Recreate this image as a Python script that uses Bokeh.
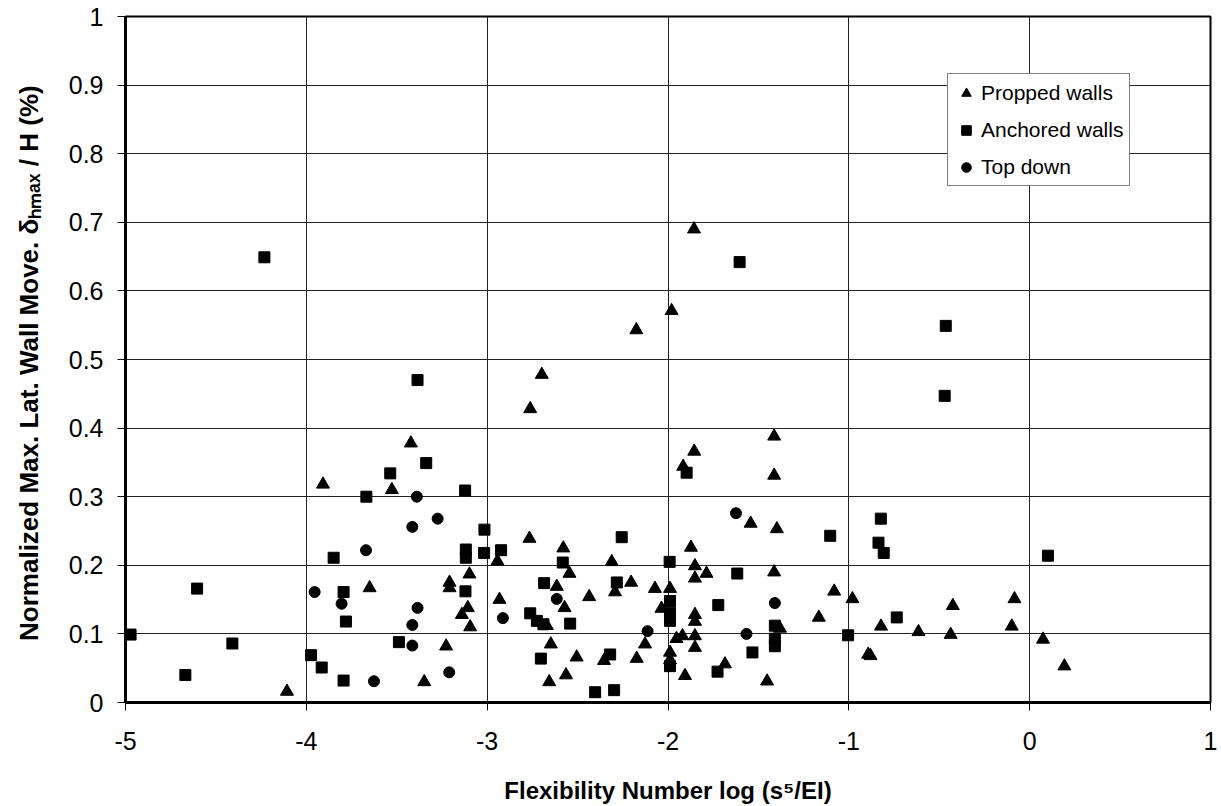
from bokeh.plotting import figure
from bokeh.models import ColumnDataSource, FixedTicker, Legend, LegendItem
from bokeh.embed import file_html
from bokeh.resources import INLINE

# ---- data ----
propped_x = [-2.698, -2.762, -3.422, -3.908, -3.527, -2.766, -2.943, -3.098, -3.208, -3.208,
             -3.650, -2.932, -3.107, -3.140, -3.094, -3.227, -3.348, -4.107, -1.413, -1.855,
             -1.916, -1.413, -1.543, -1.398, -2.579, -1.873, -2.311, -1.851, -2.545, -1.851,
             -1.787, -1.413, -2.204, -2.615, -2.293, -2.072, -1.989, -1.081, -2.436, -2.572,
             -2.036, -1.851, -1.851, -1.166, -1.381, -1.953, -1.920, -1.851, -1.851, -2.648,
             -2.127, -1.989, -1.989, -2.354, -2.505, -2.173, -1.685, -1.906, -2.564, -2.657,
             -1.452, -0.980, -0.084, -0.425, -0.822, -0.099, -0.615, -0.437, 0.074, -0.893,
             -0.880, 0.192, -1.856, -1.980, -2.175, -2.670]
propped_y = [0.478, 0.428, 0.378, 0.318, 0.310, 0.239, 0.206, 0.187, 0.175, 0.167,
             0.167, 0.150, 0.138, 0.128, 0.110, 0.082, 0.030, 0.016, 0.388, 0.366,
             0.344, 0.331, 0.261, 0.253, 0.225, 0.226, 0.205, 0.199, 0.188, 0.181,
             0.188, 0.190, 0.175, 0.169, 0.161, 0.166, 0.166, 0.162, 0.154, 0.138,
             0.137, 0.128, 0.118, 0.124, 0.108, 0.093, 0.097, 0.097, 0.080, 0.085,
             0.085, 0.073, 0.062, 0.061, 0.066, 0.064, 0.056, 0.039, 0.040, 0.030,
             0.031, 0.151, 0.151, 0.141, 0.111, 0.111, 0.103, 0.099, 0.092, 0.070,
             0.068, 0.053, 0.690, 0.571, 0.543, 0.112]

anchored_x = [-4.232, -3.385, -3.337, -3.536, -3.122, -3.668, -3.015, -3.849, -3.118, -3.118,
              -3.017, -2.923, -4.604, -3.794, -3.120, -2.762, -3.781, -2.725, -2.689, -4.972,
              -4.409, -3.488, -3.974, -2.703, -3.915, -4.669, -3.794, -1.897, -1.103, -2.256,
              -1.991, -2.582, -1.617, -2.685, -2.283, -1.989, -1.722, -1.989, -1.989, -2.541,
              -1.409, -1.004, -1.409, -1.409, -1.533, -2.320, -1.989, -1.726, -2.403, -2.298,
              -0.823, -0.836, -0.807, 0.101, -0.735, -1.604, -0.464, -0.470]
anchored_y = [0.649, 0.470, 0.349, 0.334, 0.309, 0.300, 0.252, 0.211, 0.223, 0.211,
              0.218, 0.222, 0.166, 0.161, 0.162, 0.130, 0.118, 0.119, 0.114, 0.099,
              0.086, 0.088, 0.069, 0.064, 0.051, 0.040, 0.032, 0.335, 0.243, 0.241,
              0.205, 0.204, 0.188, 0.174, 0.175, 0.148, 0.142, 0.131, 0.119, 0.115,
              0.112, 0.098, 0.093, 0.082, 0.073, 0.070, 0.053, 0.045, 0.015, 0.018,
              0.268, 0.233, 0.218, 0.214, 0.124, 0.642, 0.549, 0.447]

topdown_x = [-3.389, -3.274, -3.414, -3.670, -3.954, -3.805, -3.385, -2.913, -3.414, -3.414,
             -3.210, -3.626, -1.624, -2.615, -1.409, -2.113, -1.566]
topdown_y = [0.300, 0.268, 0.256, 0.222, 0.161, 0.144, 0.138, 0.123, 0.113, 0.083,
             0.044, 0.031, 0.276, 0.151, 0.145, 0.104, 0.100]

x_ticks = [-5, -4, -3, -2, -1, 0, 1]
x_tick_labels = ["-5", "-4", "-3", "-2", "-1", "0", "1"]
y_ticks = [0.0, 0.1, 0.2, 0.3, 0.4, 0.5, 0.6, 0.7, 0.8, 0.9, 1.0]
y_tick_labels = ["0", "0.1", "0.2", "0.3", "0.4", "0.5", "0.6", "0.7", "0.8", "0.9", "1"]

series_names = ["Propped walls", "Anchored walls", "Top down"]

FONT = "Liberation Sans"

p = figure(width=1221, height=806, x_range=(-5, 1), y_range=(0, 1),
           output_backend="svg", toolbar_location=None,
           min_border_left=125, min_border_right=11, min_border_top=16, min_border_bottom=103,
           background_fill_color="white", border_fill_color="white")

p.outline_line_color = "black"
p.outline_line_width = 2

# grid
p.xgrid.ticker = FixedTicker(ticks=x_ticks)
p.ygrid.ticker = FixedTicker(ticks=y_ticks)
for g in (p.xgrid, p.ygrid):
    g.grid_line_color = "#222222"
    g.grid_line_width = 1

# axes
p.xaxis.ticker = FixedTicker(ticks=x_ticks)
p.yaxis.ticker = FixedTicker(ticks=y_ticks)
p.xaxis.major_label_overrides = {t: l for t, l in zip(x_ticks, x_tick_labels)}
p.yaxis.major_label_overrides = {t: l for t, l in zip(y_ticks, y_tick_labels)}
for ax in (p.xaxis, p.yaxis):
    ax.axis_line_color = "black"
    ax.axis_line_width = 3
    ax.major_tick_line_color = "black"
    ax.major_tick_line_width = 1
    ax.major_tick_out = 8
    ax.major_tick_in = 0
    ax.minor_tick_line_color = None
    ax.major_label_text_font = FONT
    ax.major_label_text_font_size = "25px"
    ax.major_label_text_color = "black"
    ax.axis_label_text_font = FONT
    ax.axis_label_text_font_style = "bold"
    ax.axis_label_text_color = "black"

p.xaxis.axis_label_text_font_size = "24px"
p.yaxis.axis_label_text_font_size = "26px"
p.xaxis.major_label_standoff = 21
p.yaxis.major_label_standoff = 14
p.xaxis.axis_label = "Flexibility Number log (s\u2075/EI)"
p.yaxis.axis_label = "Normalized Max. Lat. Wall Move.  \u03b4\u2095\u2098\u2090\u2093 / H (%)"
p.xaxis.axis_label_standoff = 24
p.yaxis.axis_label_standoff = 22

src_p = ColumnDataSource(dict(x=propped_x, y=propped_y))
src_a = ColumnDataSource(dict(x=anchored_x, y=anchored_y))
src_t = ColumnDataSource(dict(x=topdown_x, y=topdown_y))

r_p = p.scatter("x", "y", source=src_p, marker="triangle", size=13,
                fill_color="black", line_color="black")
r_a = p.scatter("x", "y", source=src_a, marker="square", size=11,
                fill_color="black", line_color="black")
r_t = p.scatter("x", "y", source=src_t, marker="circle", size=11,
                fill_color="black", line_color="black")

legend = Legend(items=[LegendItem(label=series_names[0], renderers=[r_p]),
                       LegendItem(label=series_names[1], renderers=[r_a]),
                       LegendItem(label=series_names[2], renderers=[r_t])],
                location=(822, 516))
legend.label_text_font = FONT
legend.label_text_font_size = "21px"
legend.label_text_color = "black"
legend.glyph_width = 24
legend.glyph_height = 24
legend.label_height = 25
legend.label_standoff = 3
legend.spacing = 12
legend.padding = 6
legend.margin = 0
legend.border_line_color = "black"
legend.border_line_width = 1.5
legend.background_fill_color = "white"
legend.background_fill_alpha = 1
p.add_layout(legend, "center")

open("out.html", "w").write(file_html(p, INLINE))
